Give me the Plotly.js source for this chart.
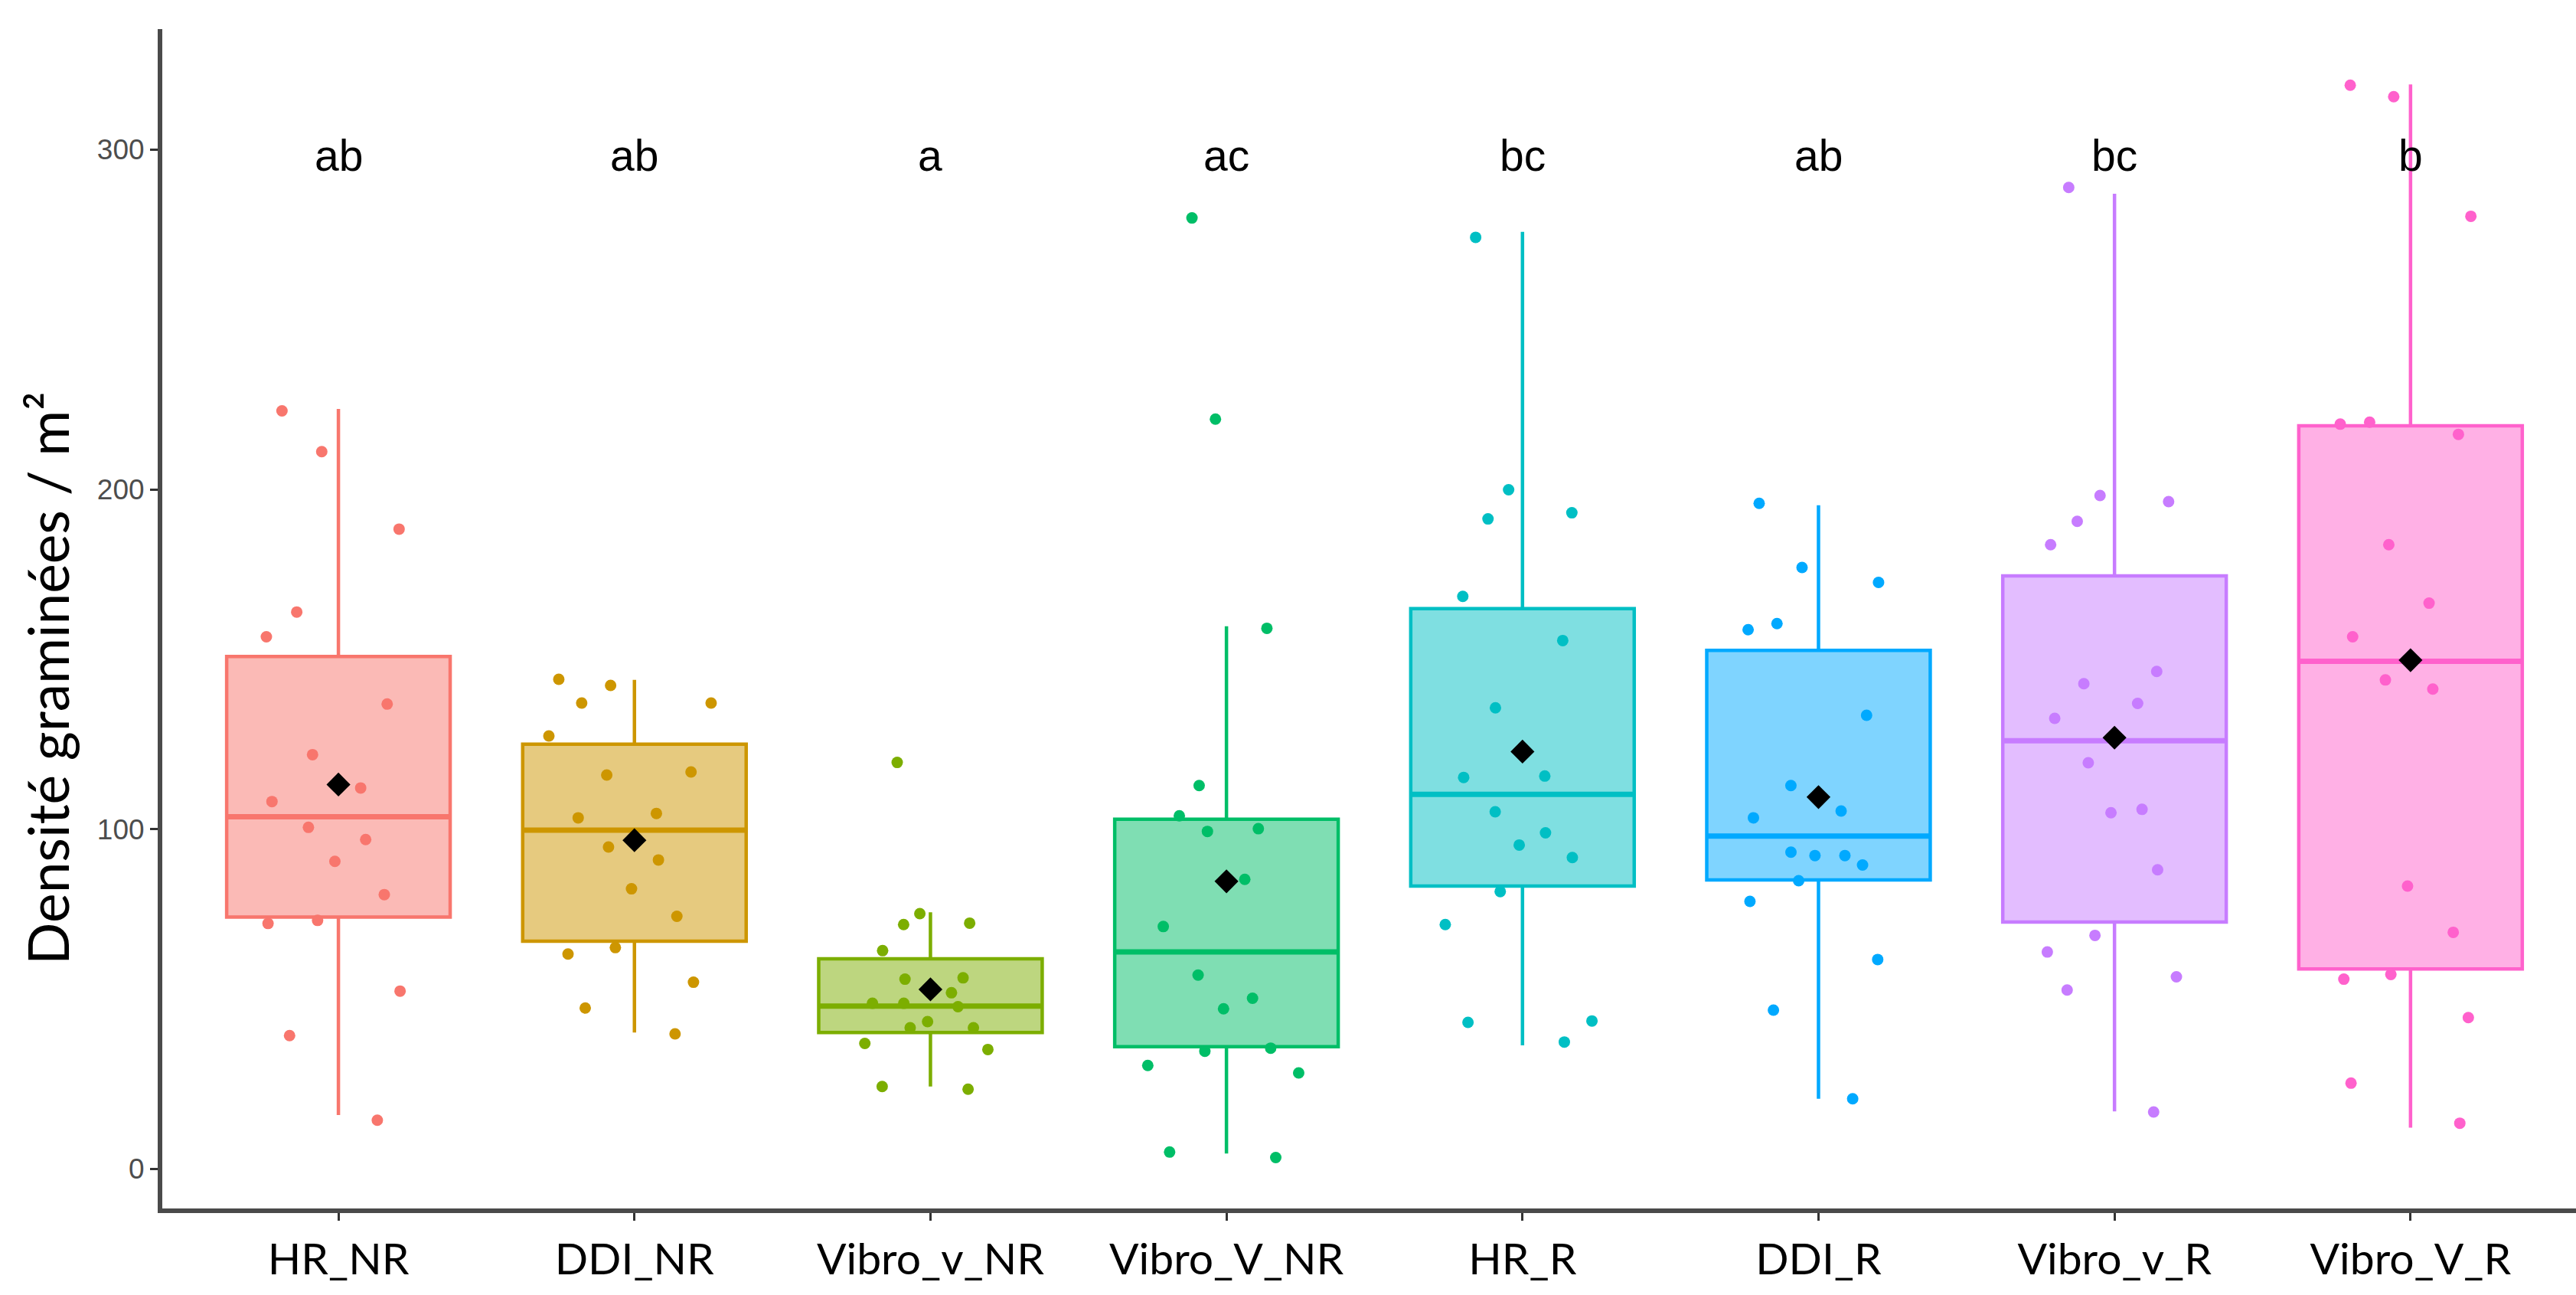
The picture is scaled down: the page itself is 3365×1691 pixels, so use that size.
<!DOCTYPE html>
<html>
<head>
<meta charset="utf-8">
<script src="https://cdn.plot.ly/plotly-3.0.1.min.js"></script>
<style>html,body{margin:0;padding:0;background:#fff;}#chart{width:3365px;height:1691px;}</style>
</head>
<body>
<div id="chart"></div>
<script>
// ---- data ----
const categories = ['HR_NR','DDI_NR','Vibro_v_NR','Vibro_V_NR','HR_R','DDI_R','Vibro_v_R','Vibro_V_R'];
const colors = ['#F8766D','#CD9600','#7CAE00','#00BE67','#00BFC4','#00A9FF','#C77CFF','#FF61CC'];
const letters = ['ab','ab','a','ac','bc','ab','bc','b'];
const letterLevel = 300;

// individual observations (densité graminées / m²)
const obs_HR_NR      = [223.1,211.1,188.3,163.9,156.6,136.8,121.9,112.1,108.1,100.5,96.9,90.5,80.7,72.2,73.1,52.3,39.2,14.3];
const obs_DDI_NR     = [144.1,142.3,137.1,137.1,127.4,116.8,115.9,104.6,103.3,94.7,90.9,82.4,74.3,65.1,63.2,54.9,47.3,39.7];
const obs_Vibro_v_NR = [119.6,75.1,72.3,71.9,64.2,55.8,56.2,51.8,48.7,47.7,48.7,43.3,41.5,41.5,36.9,35.1,24.2,23.4];
const obs_Vibro_V_NR = [279.9,220.7,159.1,112.8,103.9,100.1,99.3,85.2,71.3,57.0,50.2,47.1,34.6,35.5,30.4,28.2,4.9,3.3];
const obs_HR_R       = [274.2,199.9,193.1,191.3,168.5,155.5,135.7,115.2,115.6,105.1,98.9,95.3,91.6,81.6,71.9,43.5,43.1,37.3];
const obs_DDI_R      = [195.9,177.0,172.6,160.5,158.7,133.5,112.8,105.3,103.3,93.2,92.2,92.2,89.4,84.8,78.7,61.6,46.7,20.6];
const obs_Vibro_v_R  = [288.9,198.2,196.4,190.6,183.7,146.4,142.8,137.0,132.6,119.5,105.8,104.8,88.0,68.7,63.8,56.5,52.6,16.7];
const obs_Vibro_V_R  = [319.0,315.6,280.4,219.8,219.2,216.2,183.7,166.5,156.6,143.9,141.2,83.2,69.6,57.2,55.8,44.5,25.2,13.4];
const observations = [obs_HR_NR,obs_DDI_NR,obs_Vibro_v_NR,obs_Vibro_V_NR,obs_HR_R,obs_DDI_R,obs_Vibro_v_R,obs_Vibro_V_R];

// box statistics as drawn in the reference
const whiskerLow  = [15.8, 40.1, 24.2,   4.5,  36.3,  20.6,  16.9,  12.1];
const q1          = [74.1, 67.0, 40.1,  35.9,  83.2,  85.0,  72.6,  58.8];
const median      = [103.6,99.7, 47.9,  63.8, 110.2,  97.9, 126.0, 149.4];
const q3          = [150.8,125.0,61.8, 102.9, 164.9, 152.6, 174.5, 218.7];
const whiskerHigh = [223.7,143.9,75.5, 159.7, 275.8, 195.3, 287.0, 319.2];
const means       = [113.1,96.7, 52.8,  84.6, 122.8, 109.4, 126.9, 149.7];

const yTicks = [0,100,200,300];
const yTitle = 'Densité graminées / m²';

// ---- styling ----
function hexToRgba(hex, a){
  const n = parseInt(hex.slice(1),16);
  return 'rgba(' + ((n>>16)&255) + ',' + ((n>>8)&255) + ',' + (n&255) + ',' + a + ')';
}
const BOXW = 0.755;
const traces = [];

// boxes (precomputed statistics)
categories.forEach((c,i)=>{
  traces.push({
    type:'box', x:[c], q1:[q1[i]], median:[median[i]], q3:[q3[i]],
    lowerfence:[whiskerLow[i]], upperfence:[whiskerHigh[i]],
    width: BOXW, whiskerwidth: 0,
    fillcolor: hexToRgba(colors[i],0.5),
    line:{color:colors[i], width:4.5},
    boxpoints:false, hoverinfo:'skip', showlegend:false
  });
});
// jittered observations
categories.forEach((c,i)=>{
  traces.push({
    type:'box', x: observations[i].map(()=>c), y: observations[i],
    width: BOXW, whiskerwidth: 0,
    fillcolor:'rgba(0,0,0,0)', line:{color:'rgba(0,0,0,0)', width:0},
    boxpoints:'all', jitter:0.85, pointpos:0,
    marker:{color:colors[i], size:15, opacity:1},
    hoverinfo:'skip', showlegend:false
  });
});
// thicker median bars
traces.push({
  type:'scatter', mode:'markers', x:categories, y:median,
  marker:{symbol:'line-ew', size:207, color:colors, line:{color:colors, width:7}},
  hoverinfo:'skip', showlegend:false
});
// means
traces.push({
  type:'scatter', mode:'markers', x:categories, y:means,
  marker:{symbol:'diamond', size:24, color:'#000000', line:{width:0}},
  hoverinfo:'skip', showlegend:false
});

// significance letters
const letterAnnotations = categories.map((c,i)=>({
  text:letters[i], x:c, y:letterLevel, xref:'x', yref:'y',
  xanchor:'center', yanchor:'middle', yshift:-8, showarrow:false,
  font:{family:'Liberation Sans, Arial, sans-serif', size:57, color:'#000000'}
}));

const layout = {
  width:3365, height:1691,
  margin:{l:212, r:0, t:38, b:113},
  paper_bgcolor:'#ffffff', plot_bgcolor:'#ffffff',
  showlegend:false, boxmode:'overlay', boxgroupgap:0,
  xaxis:{
    type:'category', categoryorder:'array', categoryarray:categories,
    range:[-0.595, 7.559], showgrid:false, zeroline:false,
    showline:true, linecolor:'#4a4a4a', linewidth:6,
    ticks:'outside', ticklen:10, tickwidth:3, tickcolor:'#333333',
    tickfont:{family:'Lato, Open Sans, sans-serif', size:57, color:'#000000'},
    ticklabelstandoff:2
  },
  yaxis:{
    range:[-11.7, 335.5], showgrid:false, zeroline:false,
    showline:true, linecolor:'#4a4a4a', linewidth:6,
    tickvals:yTicks, ticktext:yTicks.map(String),
    ticks:'outside', ticklen:10, tickwidth:3, tickcolor:'#333333',
    tickfont:{family:'Liberation Sans, Arial, sans-serif', size:37, color:'#4D4D4D'}
  },
  annotations:[{
    text:yTitle, xref:'paper', yref:'paper', x:-0.0476, y:0.45,
    xanchor:'center', yanchor:'middle', textangle:-90, showarrow:false,
    font:{family:'Lato, Open Sans, sans-serif', size:73, color:'#000000'}
  }].concat(letterAnnotations)
};

Plotly.newPlot('chart', traces, layout, {displayModeBar:false, staticPlot:true});
</script>
</body>
</html>
